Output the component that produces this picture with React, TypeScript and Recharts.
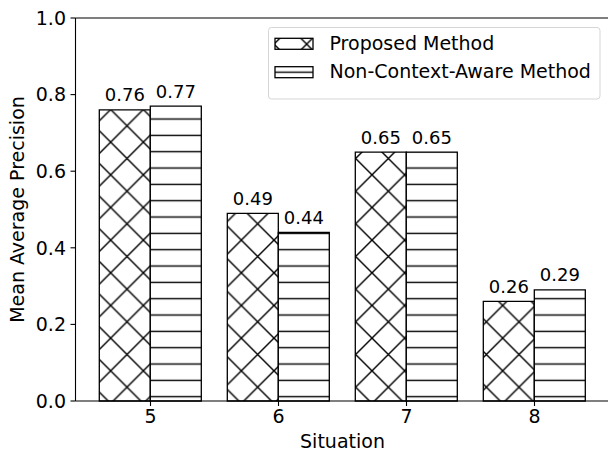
import React from "react";
import {
  BarChart,
  Bar,
  XAxis,
  YAxis,
  ReferenceLine,
  LabelList,
  Customized,
} from "recharts";

// values
const situations = ["5", "6", "7", "8"];
const proposedMethod = [0.76, 0.49, 0.65, 0.26];
const nonContextAware = [0.77, 0.44, 0.65, 0.29];
const yTicks = [0, 0.2, 0.4, 0.6, 0.8, 1.0];

const seriesNames = ["Proposed Method", "Non-Context-Aware Method"];

const chartData = situations.map((s, i) => ({
  situation: s,
  proposed: proposedMethod[i],
  nonContext: nonContextAware[i],
}));

const FONT = '"DejaVu Sans", sans-serif';
const CROSS = 32.667; // matplotlib 'x' hatch at ~98 dpi
const HLINE = 16.333; // matplotlib '-' hatch
const HATCH_W = 1.4;

// value label drawn above every bar
const ValueLabel = (props: any) => {
  const { x, y, width, value } = props;
  return (
    <text
      x={x + width / 2}
      y={y - 8.5}
      textAnchor="middle"
      fontSize={18}
      fontFamily={FONT}
      fill="#000"
    >
      {Number(value).toFixed(2)}
    </text>
  );
};

const crossTile = (id: string, ox: number, oy: number) => (
  <pattern
    id={id}
    patternUnits="userSpaceOnUse"
    x={ox}
    y={oy}
    width={CROSS}
    height={CROSS}
  >
    <rect width={CROSS} height={CROSS} fill="#fff" />
    <path
      d={`M -2 -2 L ${CROSS + 2} ${CROSS + 2} M ${CROSS + 2} -2 L -2 ${CROSS + 2}
          M -3 3 L 3 -3 M ${CROSS - 3} -3 L ${CROSS + 3} 3
          M -3 ${CROSS - 3} L 3 ${CROSS + 3} M ${CROSS - 3} ${CROSS + 3} L ${CROSS + 3} ${CROSS - 3}`}
      stroke="#000"
      strokeWidth={HATCH_W}
      fill="none"
    />
  </pattern>
);

const lineTile = (id: string, oy: number) => (
  <pattern
    id={id}
    patternUnits="userSpaceOnUse"
    x={0}
    y={oy - HLINE / 2}
    width={20}
    height={HLINE}
  >
    <rect width={20} height={HLINE} fill="#fff" />
    <line x1={-1} y1={HLINE / 2} x2={21} y2={HLINE / 2} stroke="#000" strokeWidth={HATCH_W} />
  </pattern>
);

// titles and legend box, placed like the matplotlib figure
const Decorations = () => (
  <g fontFamily={FONT} fill="#000">
    <text
      x={24}
      y={209.5}
      transform="rotate(-90, 24, 209.5)"
      textAnchor="middle"
      fontSize={19}
    >
      Mean Average Precision
    </text>
    <text x={342.5} y={447.5} textAnchor="middle" fontSize={19}>
      Situation
    </text>

    <rect
      x={268.5}
      y={27.5}
      width={331.5}
      height={71.5}
      rx={3}
      fill="#fff"
      fillOpacity={0.8}
      stroke="#d5d5d5"
      strokeWidth={1}
    />
    <rect x={275} y={38.3} width={38} height={11} fill="url(#legCross)" stroke="#000" strokeWidth={1.3} />
    <rect x={275} y={66.7} width={38} height={11} fill="url(#legLines)" stroke="#000" strokeWidth={1.3} />
    <text x={329.5} y={49.5} fontSize={19}>
      {seriesNames[0]}
    </text>
    <text x={329.5} y={77.5} fontSize={19}>
      {seriesNames[1]}
    </text>
  </g>
);

export default function App() {
  return (
    <div
      style={{
        position: "absolute",
        left: 0,
        top: 0,
        width: 608,
        height: 452,
        overflow: "hidden",
        background: "#fff",
      }}
    >
      <BarChart
        width={620}
        height={452}
        data={chartData}
        margin={{ top: 18, right: 10.5, bottom: 0, left: 0 }}
        barCategoryGap="10%"
        barGap={0}
      >
        <defs>
          {crossTile("barCross", 12.67, 11.47)}
          {lineTile("barLines", 4.7)}
          {crossTile("legCross", 12.67, 11.47)}
          {lineTile("legLines", 72.2)}
        </defs>
        <XAxis
          dataKey="situation"
          height={51}
          padding={{ left: 11, right: 11 }}
          axisLine={{ stroke: "#000", strokeWidth: 1.1 }}
          tickLine={{ stroke: "#000", strokeWidth: 1.1 }}
          tickSize={5}
          tickMargin={4}
          tick={{ fontSize: 19, fill: "#000", fontFamily: FONT }}
        />
        <YAxis
          width={75.5}
          domain={[0, 1]}
          ticks={yTicks}
          interval={0}
          tickFormatter={(v: number) => v.toFixed(1)}
          axisLine={{ stroke: "#000", strokeWidth: 1.1 }}
          tickLine={{ stroke: "#000", strokeWidth: 1.1 }}
          tickSize={5}
          tickMargin={4.5}
          tick={{ fontSize: 19, fill: "#000", fontFamily: FONT }}
        />
        <ReferenceLine y={1} stroke="#000" strokeWidth={1.1} />
        <Bar
          dataKey="proposed"
          name={seriesNames[0]}
          fill="url(#barCross)"
          stroke="#000"
          strokeWidth={1.3}
          isAnimationActive={false}
        >
          <LabelList dataKey="proposed" content={<ValueLabel />} />
        </Bar>
        <Bar
          dataKey="nonContext"
          name={seriesNames[1]}
          fill="url(#barLines)"
          stroke="#000"
          strokeWidth={1.3}
          isAnimationActive={false}
        >
          <LabelList dataKey="nonContext" content={<ValueLabel />} />
        </Bar>
        <Customized component={<Decorations />} />
      </BarChart>
    </div>
  );
}
